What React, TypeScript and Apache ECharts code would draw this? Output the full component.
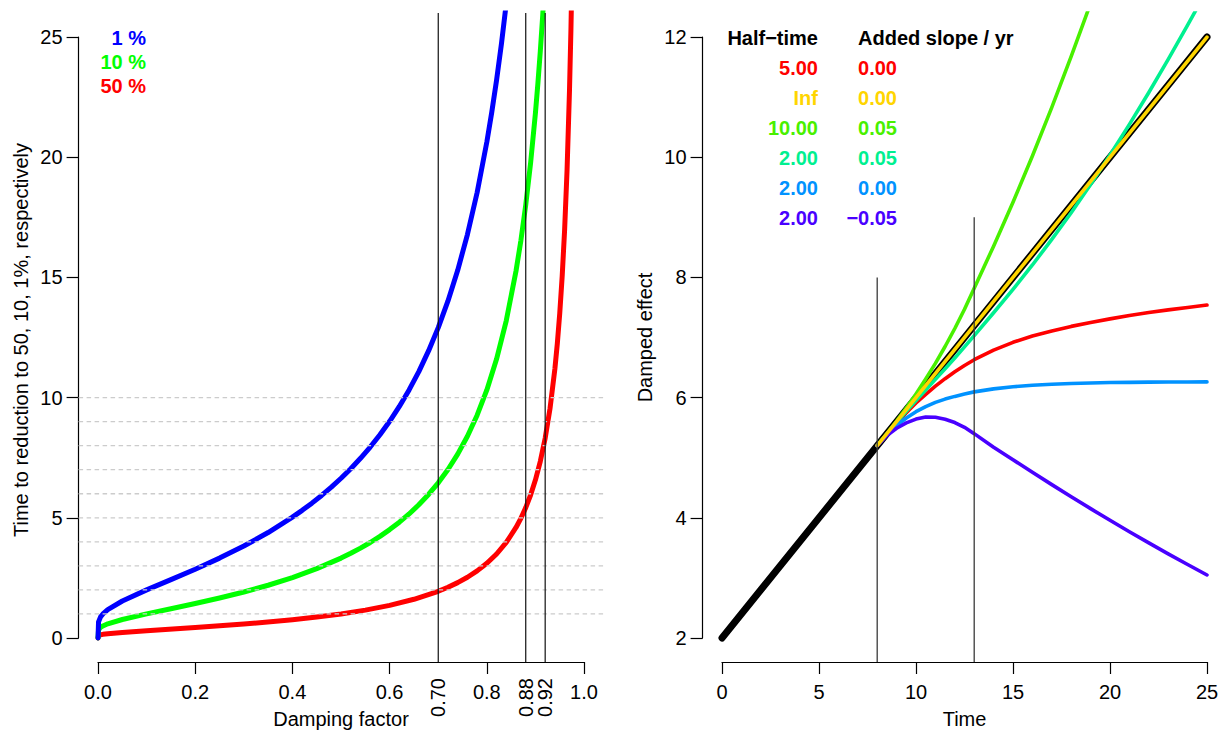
import React, { useEffect, useRef } from "react";
import * as echarts from "echarts";

// ---- Left panel: years until an effect is reduced to 1 %, 10 % and 50 % ----
const dampOnePct = [0, 0.001, 0.005, 0.01, 0.02, 0.05, 0.1, 0.15, 0.2, 0.25, 0.3, 0.35, 0.4, 0.42, 0.44, 0.46, 0.48, 0.5, 0.52, 0.54, 0.56, 0.58, 0.6, 0.62, 0.64, 0.66, 0.68, 0.7, 0.72, 0.74, 0.76, 0.78, 0.8, 0.81, 0.82, 0.83, 0.84];
const timeOnePct = [0, 0.667, 0.869, 1.0, 1.177, 1.537, 2.0, 2.428, 2.861, 3.322, 3.825, 4.387, 5.026, 5.309, 5.609, 5.93, 6.274, 6.644, 7.042, 7.474, 7.942, 8.454, 9.015, 9.633, 10.319, 11.083, 11.941, 12.911, 14.02, 15.294, 16.783, 18.532, 20.638, 21.86, 23.206, 24.715, 26.413];

const dampTenPct = [0, 0.001, 0.005, 0.01, 0.02, 0.05, 0.1, 0.15, 0.2, 0.25, 0.3, 0.35, 0.4, 0.45, 0.5, 0.52, 0.54, 0.56, 0.58, 0.6, 0.62, 0.64, 0.66, 0.68, 0.7, 0.72, 0.74, 0.76, 0.78, 0.8, 0.82, 0.84, 0.86, 0.87, 0.88, 0.89, 0.9, 0.905, 0.91, 0.915, 0.92];
const timeTenPct = [0, 0.333, 0.435, 0.5, 0.589, 0.769, 1.0, 1.214, 1.431, 1.661, 1.912, 2.193, 2.513, 2.884, 3.322, 3.521, 3.737, 3.971, 4.227, 4.508, 4.817, 5.159, 5.541, 5.97, 6.456, 7.009, 7.647, 8.39, 9.267, 10.319, 11.603, 13.206, 15.267, 16.534, 18.012, 19.759, 21.854, 23.067, 24.415, 25.921, 27.615];

const dampHalf = [0, 0.001, 0.005, 0.01, 0.02, 0.05, 0.1, 0.2, 0.3, 0.4, 0.45, 0.5, 0.55, 0.6, 0.65, 0.7, 0.72, 0.74, 0.76, 0.78, 0.8, 0.82, 0.84, 0.86, 0.87, 0.88, 0.89, 0.9, 0.91, 0.92, 0.93, 0.94, 0.945, 0.95, 0.955, 0.96, 0.965, 0.97, 0.973, 0.976];
const timeHalf = [0, 0.1, 0.131, 0.151, 0.177, 0.231, 0.301, 0.431, 0.576, 0.756, 0.868, 1.0, 1.159, 1.357, 1.609, 1.943, 2.11, 2.302, 2.526, 2.79, 3.106, 3.493, 3.976, 4.596, 4.977, 5.422, 5.948, 6.579, 7.35, 8.313, 9.551, 11.202, 12.253, 13.513, 15.054, 16.98, 19.455, 22.757, 25.324, 28.533];

const pctLabels = ["1 %", "10 %", "50 %"];
const pctColors = ["#0000FF", "#00FF00", "#FF0000"];
const guideLevels = [1, 2, 3, 4, 5, 6, 7, 8, 9, 10];
const markedFactors = [0.7, 0.88, 0.92];

// ---- Right panel: damped effects over time ----
const baseTimes = [0, 25];
const baseEffect = [2, 12];
const infTimes = [8, 25];
const infEffect = [5.2, 12];

const effTimes = [8, 8.5, 9, 9.5, 10, 10.5, 11, 11.5, 12, 12.5, 13, 14, 15, 16, 17, 18, 19, 20, 21, 22, 23, 24, 25];
const effHalf5 = [5.2, 5.39, 5.575, 5.75, 5.91, 6.055, 6.19, 6.315, 6.43, 6.535, 6.63, 6.79, 6.92, 7.025, 7.11, 7.185, 7.25, 7.31, 7.365, 7.415, 7.46, 7.5, 7.54];
const effHalf10Up = [5.2, 5.4, 5.61, 5.83, 6.06, 6.31, 6.57, 6.85, 7.15, 7.47, 7.82, 8.52, 9.25, 10.02, 10.83, 11.68, 12.56];
const effHalf2Up = [5.2, 5.395, 5.585, 5.77, 5.95, 6.127, 6.303, 6.48, 6.66, 6.844, 7.032, 7.412, 7.802, 8.207, 8.632, 9.077, 9.547, 10.037, 10.547, 11.077, 11.627, 12.197, 12.782];
const effHalf2 = [5.2, 5.38, 5.535, 5.66, 5.765, 5.85, 5.92, 5.975, 6.02, 6.06, 6.095, 6.145, 6.18, 6.205, 6.222, 6.235, 6.244, 6.25, 6.254, 6.257, 6.259, 6.26, 6.261];
const effHalf2Down = [5.2, 5.37, 5.49, 5.578, 5.642, 5.678, 5.672, 5.64, 5.585, 5.505, 5.4, 5.175, 4.965, 4.757, 4.552, 4.35, 4.152, 3.958, 3.768, 3.582, 3.4, 3.222, 3.048];

const halfTimeLabels = ["5.00", "Inf", "10.00", "2.00", "2.00", "2.00"];
const slopeLabels = ["0.00", "0.00", "0.05", "0.05", "0.00", "\u22120.05"];
const effectColors = ["#FF0000", "#FFD500", "#49F000", "#00F090", "#0092FF", "#4900FF"];
const markerTimes = [8, 13];
const markerTops = [8, 9];

const FONT = '"Liberation Sans", Arial, Helvetica, sans-serif';

const pairs = (xs: number[], ys: number[]) => ys.map((y, i) => [xs[i], y]);

function curve(xIdx: number, yIdx: number, data: number[][], color: string, width: number, z: number) {
  return {
    type: "line",
    xAxisIndex: xIdx,
    yAxisIndex: yIdx,
    data,
    symbol: "none",
    showSymbol: false,
    silent: true,
    smooth: false,
    clip: true,
    z,
    lineStyle: { color, width, cap: "round", join: "round" },
  };
}

function label(x: number, y: number, text: string, color: string, align: string, bold: boolean, rotation = 0) {
  return {
    type: "text",
    x,
    y,
    rotation,
    silent: true,
    style: {
      text,
      fill: color,
      font: `${bold ? "bold " : ""}20px ${FONT}`,
      align,
      textAlign: align,
      verticalAlign: "middle",
      textVerticalAlign: "middle",
    },
  };
}

function buildOption() {
  const axisLine = { show: true, onZero: false, lineStyle: { color: "#000", width: 1.2 } };
  const axisTick = { show: true, length: 12, lineStyle: { color: "#000", width: 1.2 } };
  const tickText = { color: "#000", fontSize: 20, fontFamily: FONT };
  const hidden = (gridIndex: number, min: number, max: number) => ({
    type: "value", gridIndex, min, max, show: false, splitLine: { show: false },
  });

  const series: any[] = [];

  // left panel curves
  series.push(curve(0, 0, pairs(dampHalf, timeHalf), pctColors[2], 5, 2));
  series.push(curve(0, 0, pairs(dampTenPct, timeTenPct), pctColors[1], 5, 2));
  series.push(curve(0, 0, pairs(dampOnePct, timeOnePct), pctColors[0], 5, 2));

  // dashed guides across the plot region
  guideLevels.forEach((lv) => {
    series.push({
      type: "line", xAxisIndex: 0, yAxisIndex: 0, symbol: "none", silent: true, z: 3,
      data: [[-0.04, lv], [1.04, lv]],
      lineStyle: { color: "#cccccc", width: 1.3, type: [4.5, 3.5] },
    });
  });

  // vertical markers at selected damping factors
  markedFactors.forEach((d) => {
    series.push({
      type: "line", xAxisIndex: 0, yAxisIndex: 0, symbol: "none", silent: true, z: 4,
      data: [[d, -1], [d, 26]],
      lineStyle: { color: "#111", width: 1.2 },
    });
  });

  // right panel: undamped baseline, then damped variants
  series.push(curve(1, 2, pairs(baseTimes, baseEffect), "#000", 7, 2));
  const effectSeries = [effHalf5, null, effHalf10Up, effHalf2Up, effHalf2, effHalf2Down];
  effectSeries.forEach((vals, i) => {
    if (!vals) return;
    series.push(curve(1, 2, pairs(effTimes, vals), effectColors[i], 3.6, 3));
  });
  series.push(curve(1, 2, pairs(infTimes, infEffect), effectColors[1], 3.6, 3));

  markerTimes.forEach((t, i) => {
    series.push({
      type: "line", xAxisIndex: 1, yAxisIndex: 2, symbol: "none", silent: true, z: 5,
      data: [[t, 1.6], [t, markerTops[i]]],
      lineStyle: { color: "#3a3a3a", width: 1.3 },
    });
  });

  const graphics: any[] = [];
  pctLabels.forEach((t, i) => graphics.push(label(146, 38 + 24 * i, t, pctColors[i], "right", true)));
  graphics.push(label(818, 38, "Half\u2212time", "#000", "right", true));
  graphics.push(label(858, 38, "Added slope / yr", "#000", "left", true));
  halfTimeLabels.forEach((t, i) => {
    graphics.push(label(818, 68 + 30 * i, t, effectColors[i], "right", true));
    graphics.push(label(897, 68 + 30 * i, slopeLabels[i], effectColors[i], "right", true));
  });
  graphics.push(label(341, 719, "Damping factor", "#000", "center", false));
  graphics.push(label(964.5, 719, "Time", "#000", "center", false));
  graphics.push(label(21, 340, "Time to reduction to 50, 10, 1%, respectively", "#000", "center", false, Math.PI / 2));
  graphics.push(label(645, 337.5, "Damped effect", "#000", "center", false, Math.PI / 2));

  // one label-only axis per marked factor, so that close labels are all kept
  const markedAxes = markedFactors.map((d) => ({
    type: "value", gridIndex: 1, position: "bottom", min: 0, max: 1, offset: 24,
    axisLine: { show: false }, axisTick: { show: false }, splitLine: { show: false },
    axisLabel: { ...tickText, margin: 16, rotate: 90, customValues: [d], formatter: (v: number) => v.toFixed(2) },
  }));

  return {
    animation: false,
    backgroundColor: "#fff",
    textStyle: { fontFamily: FONT },
    grid: [
      { left: 78.6, top: 13, width: 524.9, height: 649, containLabel: false, outerBoundsMode: "none" },
      { left: 98, top: 37, width: 486, height: 601, containLabel: false, outerBoundsMode: "none" },
      { left: 702.6, top: 13, width: 523.8, height: 649, containLabel: false, outerBoundsMode: "none" },
      { left: 722, top: 37, width: 485, height: 601, containLabel: false, outerBoundsMode: "none" },
    ],
    xAxis: [
      hidden(0, -0.04, 1.04),
      hidden(2, -1, 26),
      {
        type: "value", gridIndex: 1, position: "bottom", min: 0, max: 1, interval: 0.2, offset: 24,
        axisLine, axisTick, splitLine: { show: false },
        axisLabel: { ...tickText, margin: 20, formatter: (v: number) => v.toFixed(1) },
      },
      {
        type: "value", gridIndex: 3, position: "bottom", min: 0, max: 25, interval: 5, offset: 24,
        axisLine, axisTick, splitLine: { show: false },
        axisLabel: { ...tickText, margin: 20 },
      },
      ...markedAxes,
    ],
    yAxis: [
      hidden(0, -1, 26),
      {
        type: "value", gridIndex: 1, position: "left", min: 0, max: 25, interval: 5, offset: 19.4,
        axisLine, axisTick, splitLine: { show: false },
        axisLabel: { ...tickText, margin: 16 },
      },
      hidden(2, 1.6, 12.4),
      {
        type: "value", gridIndex: 3, position: "left", min: 2, max: 12, interval: 2, offset: 19.4,
        axisLine, axisTick, splitLine: { show: false },
        axisLabel: { ...tickText, margin: 16 },
      },
    ],
    series,
    graphic: graphics,
  };
}

export default function App() {
  const ref = useRef<HTMLDivElement>(null);
  useEffect(() => {
    if (!ref.current) return;
    const chart = echarts.init(ref.current, null, { renderer: "svg" });
    chart.setOption(buildOption() as any);
    return () => chart.dispose();
  }, []);
  return (
    <div
      ref={ref}
      style={{ position: "fixed", left: 0, top: 0, width: 1227, height: 734, background: "#fff" }}
    />
  );
}
